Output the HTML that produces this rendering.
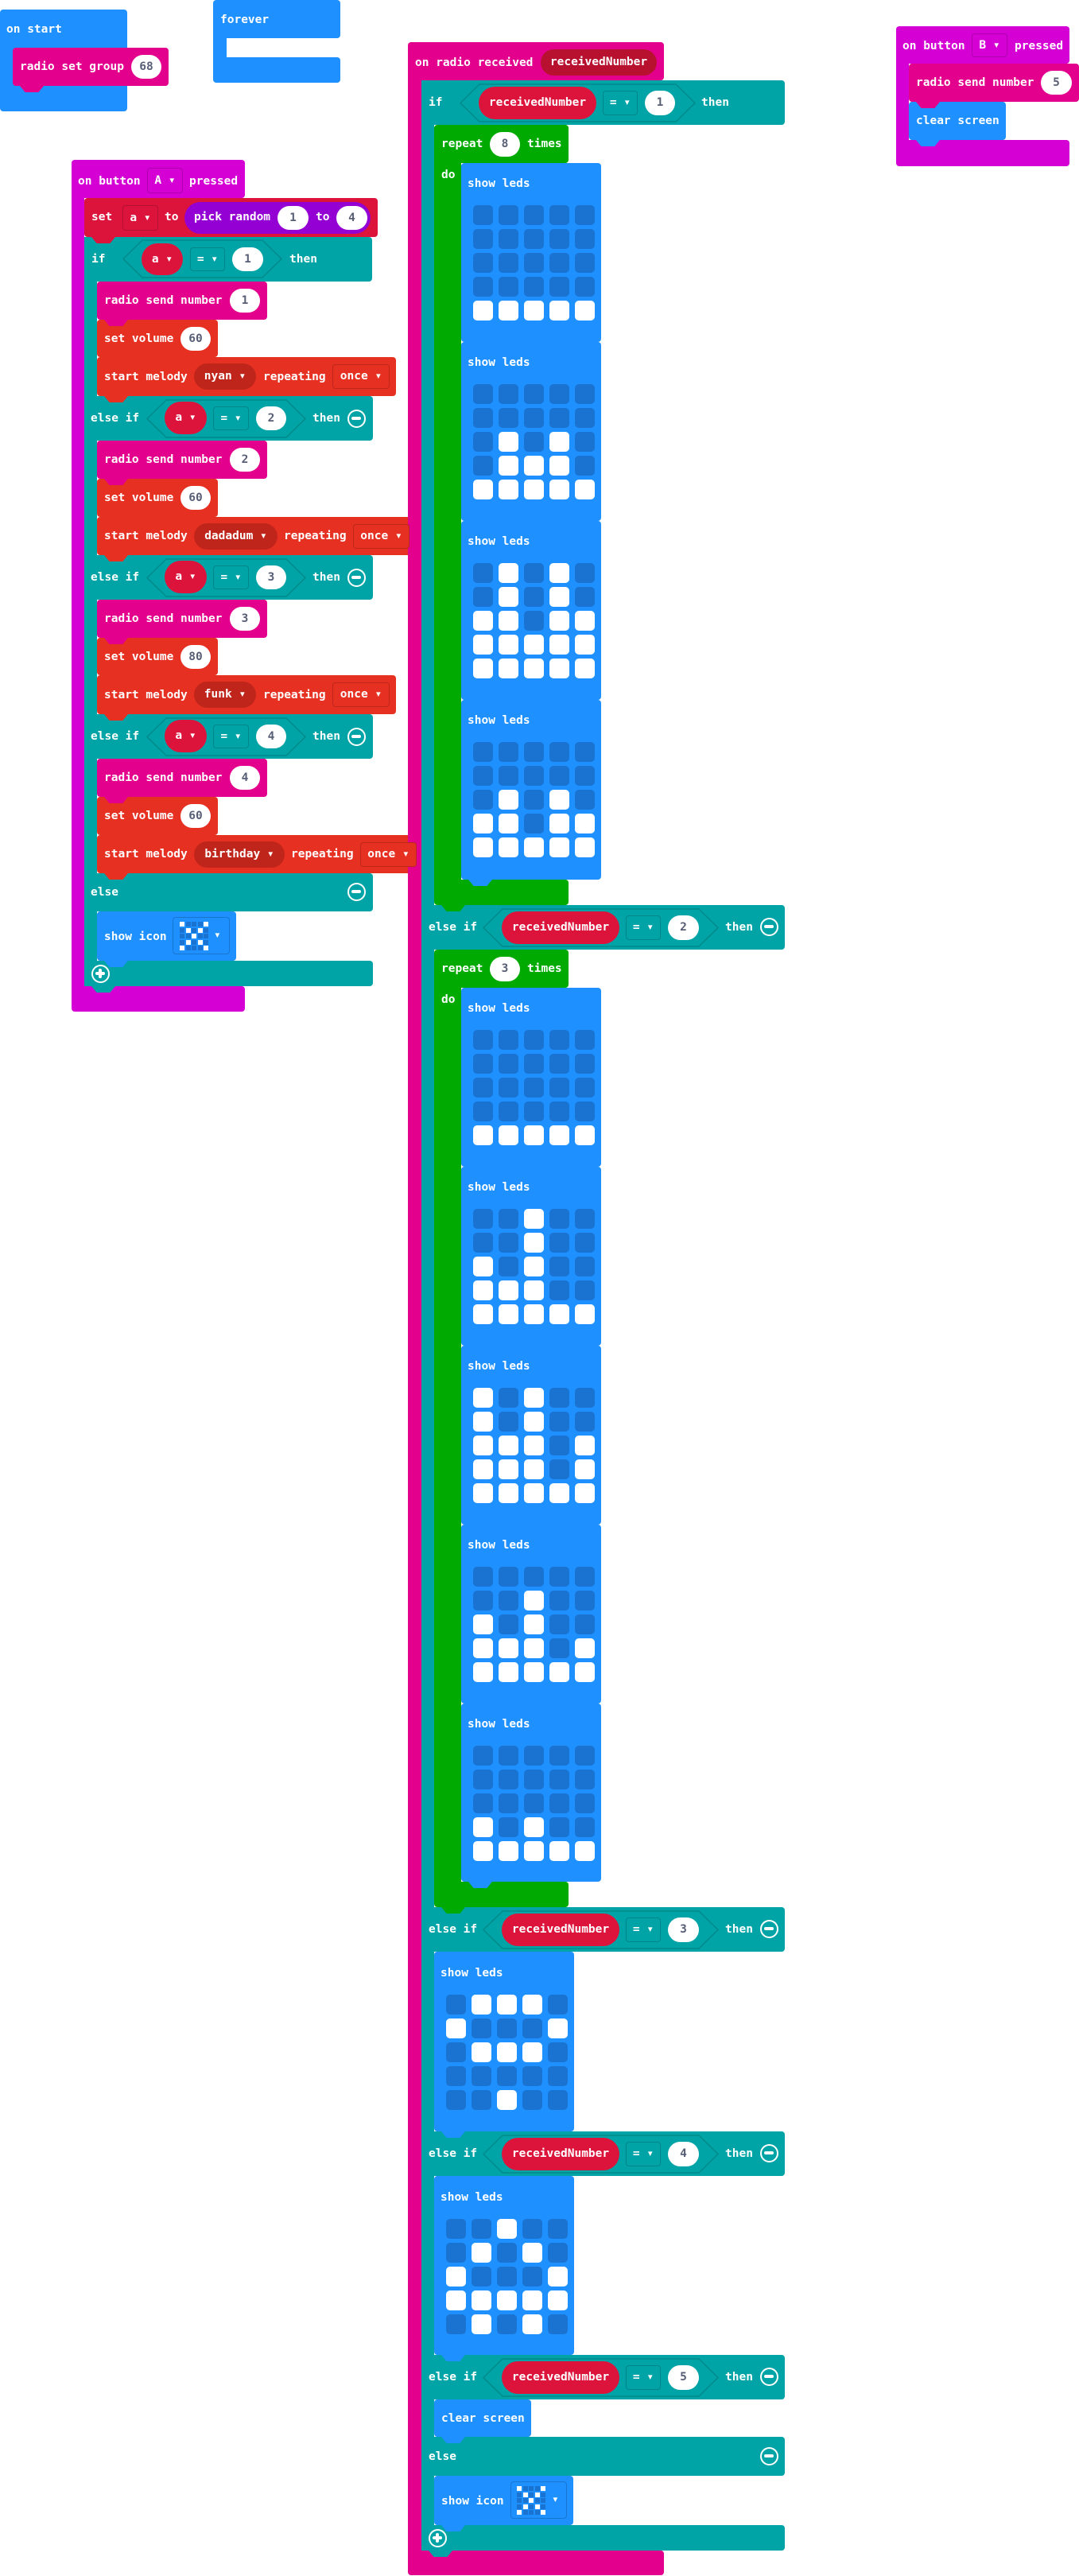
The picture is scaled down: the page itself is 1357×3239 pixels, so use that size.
<!DOCTYPE html>
<html><head><meta charset="utf-8"><style>
body{margin:0;width:1357px;height:3239px;background:#fff;position:relative;overflow:hidden}
.b{position:absolute;box-sizing:border-box;border-radius:4px}
.t::after{content:'';position:absolute;left:9px;bottom:-8px;width:30px;height:8px;background:inherit;clip-path:polygon(0 0,100% 0,78% 100%,22% 100%);z-index:2}
.x{position:absolute;color:#fff;font:bold 14.5px/18px "DejaVu Sans Mono",monospace;white-space:pre;z-index:3}
.n{position:absolute;background:#fff;border-radius:16px;color:#575e75;text-align:center;font:bold 14.5px "DejaVu Sans Mono",monospace;z-index:3}
.d{position:absolute;box-sizing:border-box;border:1px solid rgba(0,0,0,.18);border-radius:4px;color:#fff;font:bold 14.5px "DejaVu Sans Mono",monospace;white-space:pre;text-align:center;z-index:3}
.v{position:absolute;border-radius:21px;color:#fff;text-align:center;font:bold 14.5px "DejaVu Sans Mono",monospace;white-space:pre;z-index:3}
.hx{position:absolute;z-index:3}
.c{position:absolute;box-sizing:border-box;width:23px;height:23px;border:2.5px solid #fff;border-radius:50%;z-index:3}
.c::before{content:'';position:absolute;left:3px;top:7px;width:12px;height:4px;background:#fff;border-radius:2px}
.p::after{content:'';position:absolute;left:7px;top:3px;width:4px;height:12px;background:#fff;border-radius:2px}
.g{position:absolute;display:grid;grid-template-columns:repeat(5,25px);grid-auto-rows:25px;column-gap:7px;row-gap:5px;z-index:3}
.g i,.g b{border-radius:5px;background:#1a73d0;display:block}
.g b{background:#fff}
.m{position:absolute;display:grid;grid-template-columns:repeat(5,6px);grid-auto-rows:6px;gap:1.5px;z-index:3}
.m i,.m b{display:block;background:#1a73d0}.m b{background:#fff}
.BL{background:#1e90ff}.RD{background:#e3008c}.EV{background:#d400d4}.TL{background:#00a4a6}.VR{background:#dc143c}.MU{background:#e63022}.LP{background:#00aa00}
</style></head><body>

<!-- on start -->
<div class="b BL" style="left:0;top:12px;width:160px;height:128px"></div>
<div class="x" style="left:8px;top:28px">on start</div>
<div class="b RD t" style="left:16px;top:60px;width:196px;height:48px"></div>
<div class="x" style="left:25px;top:75px">radio set group</div>
<div class="n" style="left:165px;top:69px;width:38px;height:30px;line-height:30px">68</div>

<!-- forever -->
<div class="b BL" style="left:268px;top:0;width:160px;height:48px"></div>
<div class="b BL" style="left:268px;top:40px;width:17px;height:40px;border-radius:0"></div>
<div class="b BL" style="left:268px;top:72px;width:160px;height:32px"></div>
<div class="x" style="left:277px;top:16px">forever</div>

<!-- on button A -->
<div class="b EV" style="left:90px;top:201px;width:218px;height:48px"></div>
<div class="b EV" style="left:90px;top:245px;width:16px;height:1000px;border-radius:0"></div>
<div class="b EV" style="left:90px;top:1240px;width:218px;height:32px"></div>
<div class="x" style="left:98px;top:219px">on button</div>
<div class="d EV" style="left:185px;top:211px;width:45px;height:32px;line-height:30px">A ▾</div>
<div class="x" style="left:238px;top:219px">pressed</div>

<div class="b VR t" style="left:106px;top:249px;width:369px;height:49px"></div>
<div class="x" style="left:115px;top:264px">set</div>
<div class="d VR" style="left:154px;top:258px;width:45px;height:32px;line-height:30px">a ▾</div>
<div class="x" style="left:207px;top:264px">to</div>
<div class="v" style="left:232px;top:254px;width:234px;height:40px;background:#9400d3;border-radius:20px"></div>
<div class="x" style="left:244px;top:264px">pick random</div>
<div class="n" style="left:349px;top:259px;width:39px;height:30px;line-height:30px">1</div>
<div class="x" style="left:397px;top:264px">to</div>
<div class="n" style="left:423px;top:259px;width:39px;height:30px;line-height:30px">4</div>

<div class="b TL" style="left:106px;top:298px;width:16px;height:942px;border-radius:0"></div>
<!-- if a=1 -->
<div class="b TL" style="left:106px;top:298px;width:362px;height:56px"></div>
<div class="x" style="left:115px;top:317px">if</div>
<svg class="hx" style="left:154px;top:301px" width="201" height="49"><polygon points="1,24.5 25,1 176,1 200,24.5 176,48 25,48" fill="none" stroke="#008a8c" stroke-width="1.5"/></svg>
<div class="v VR" style="left:178px;top:306px;width:52px;height:40px;line-height:40px">a ▾</div>
<div class="d TL" style="left:239px;top:311px;width:44px;height:30px;line-height:28px">= ▾</div>
<div class="n" style="left:292px;top:311px;width:39px;height:30px;line-height:30px">1</div>
<div class="x" style="left:364px;top:317px">then</div>

<!-- branch 1 -->
<div class="b RD t" style="left:122px;top:354px;width:214px;height:48px"></div>
<div class="x" style="left:131px;top:369px">radio send number</div>
<div class="n" style="left:289px;top:363px;width:38px;height:30px;line-height:30px">1</div>
<div class="b MU t" style="left:122px;top:402px;width:152px;height:47px"></div>
<div class="x" style="left:131px;top:417px">set volume</div>
<div class="n" style="left:227px;top:411px;width:38px;height:30px;line-height:30px">60</div>
<div class="b MU t" style="left:122px;top:449px;width:376px;height:49px"></div>
<div class="x" style="left:131px;top:465px">start melody</div>
<div class="v" style="left:244px;top:457px;width:78px;height:33px;line-height:33px;background:#c0251b;border-radius:17px">nyan ▾</div>
<div class="x" style="left:331px;top:465px">repeating</div>
<div class="d MU" style="left:418px;top:458px;width:72px;height:31px;line-height:29px">once ▾</div>

<!-- else if a=2 -->
<div class="b TL" style="left:106px;top:498px;width:363px;height:56px"></div>
<div class="x" style="left:114px;top:517px">else if</div>
<svg class="hx" style="left:184px;top:502px" width="201" height="49"><polygon points="1,24.5 25,1 176,1 200,24.5 176,48 25,48" fill="none" stroke="#008a8c" stroke-width="1.5"/></svg>
<div class="v VR" style="left:207px;top:505px;width:53px;height:41px;line-height:41px">a ▾</div>
<div class="d TL" style="left:268px;top:511px;width:45px;height:30px;line-height:28px">= ▾</div>
<div class="n" style="left:322px;top:511px;width:38px;height:30px;line-height:30px">2</div>
<div class="x" style="left:393px;top:517px">then</div>
<div class="c" style="left:437px;top:515px"></div>

<div class="b RD t" style="left:122px;top:554px;width:214px;height:48px"></div>
<div class="x" style="left:131px;top:569px">radio send number</div>
<div class="n" style="left:289px;top:563px;width:38px;height:30px;line-height:30px">2</div>
<div class="b MU t" style="left:122px;top:602px;width:152px;height:48px"></div>
<div class="x" style="left:131px;top:617px">set volume</div>
<div class="n" style="left:227px;top:611px;width:38px;height:30px;line-height:30px">60</div>
<div class="b MU t" style="left:122px;top:650px;width:401px;height:48px"></div>
<div class="x" style="left:131px;top:665px">start melody</div>
<div class="v" style="left:244px;top:658px;width:105px;height:33px;line-height:33px;background:#c0251b;border-radius:17px">dadadum ▾</div>
<div class="x" style="left:357px;top:665px">repeating</div>
<div class="d MU" style="left:444px;top:659px;width:71px;height:31px;line-height:29px">once ▾</div>

<!-- else if a=3 -->
<div class="b TL" style="left:106px;top:698px;width:363px;height:56px"></div>
<div class="x" style="left:114px;top:717px">else if</div>
<svg class="hx" style="left:184px;top:702px" width="201" height="49"><polygon points="1,24.5 25,1 176,1 200,24.5 176,48 25,48" fill="none" stroke="#008a8c" stroke-width="1.5"/></svg>
<div class="v VR" style="left:207px;top:705px;width:53px;height:41px;line-height:41px">a ▾</div>
<div class="d TL" style="left:268px;top:711px;width:45px;height:30px;line-height:28px">= ▾</div>
<div class="n" style="left:322px;top:711px;width:38px;height:30px;line-height:30px">3</div>
<div class="x" style="left:393px;top:717px">then</div>
<div class="c" style="left:437px;top:715px"></div>

<div class="b RD t" style="left:122px;top:754px;width:214px;height:48px"></div>
<div class="x" style="left:131px;top:769px">radio send number</div>
<div class="n" style="left:289px;top:763px;width:38px;height:30px;line-height:30px">3</div>
<div class="b MU t" style="left:122px;top:802px;width:152px;height:47px"></div>
<div class="x" style="left:131px;top:817px">set volume</div>
<div class="n" style="left:227px;top:811px;width:38px;height:30px;line-height:30px">80</div>
<div class="b MU t" style="left:122px;top:849px;width:376px;height:49px"></div>
<div class="x" style="left:131px;top:865px">start melody</div>
<div class="v" style="left:244px;top:857px;width:78px;height:33px;line-height:33px;background:#c0251b;border-radius:17px">funk ▾</div>
<div class="x" style="left:331px;top:865px">repeating</div>
<div class="d MU" style="left:418px;top:858px;width:72px;height:31px;line-height:29px">once ▾</div>

<!-- else if a=4 -->
<div class="b TL" style="left:106px;top:898px;width:363px;height:56px"></div>
<div class="x" style="left:114px;top:917px">else if</div>
<svg class="hx" style="left:184px;top:902px" width="201" height="49"><polygon points="1,24.5 25,1 176,1 200,24.5 176,48 25,48" fill="none" stroke="#008a8c" stroke-width="1.5"/></svg>
<div class="v VR" style="left:207px;top:905px;width:53px;height:41px;line-height:41px">a ▾</div>
<div class="d TL" style="left:268px;top:911px;width:45px;height:30px;line-height:28px">= ▾</div>
<div class="n" style="left:322px;top:911px;width:38px;height:30px;line-height:30px">4</div>
<div class="x" style="left:393px;top:917px">then</div>
<div class="c" style="left:437px;top:915px"></div>

<div class="b RD t" style="left:122px;top:954px;width:214px;height:48px"></div>
<div class="x" style="left:131px;top:969px">radio send number</div>
<div class="n" style="left:289px;top:963px;width:38px;height:30px;line-height:30px">4</div>
<div class="b MU t" style="left:122px;top:1002px;width:152px;height:48px"></div>
<div class="x" style="left:131px;top:1017px">set volume</div>
<div class="n" style="left:227px;top:1011px;width:38px;height:30px;line-height:30px">60</div>
<div class="b MU t" style="left:122px;top:1050px;width:410px;height:48px"></div>
<div class="x" style="left:131px;top:1065px">start melody</div>
<div class="v" style="left:244px;top:1058px;width:114px;height:33px;line-height:33px;background:#c0251b;border-radius:17px">birthday ▾</div>
<div class="x" style="left:366px;top:1065px">repeating</div>
<div class="d MU" style="left:453px;top:1059px;width:71px;height:31px;line-height:29px">once ▾</div>

<!-- else -->
<div class="b TL" style="left:106px;top:1098px;width:363px;height:48px"></div>
<div class="x" style="left:114px;top:1113px">else</div>
<div class="c" style="left:437px;top:1110px"></div>
<div class="b BL t" style="left:122px;top:1146px;width:175px;height:62px"></div>
<div class="x" style="left:131px;top:1169px">show icon</div>
<div class="d BL" style="left:217px;top:1153px;width:72px;height:47px"></div>
<div class="m" style="left:226px;top:1159px"><b></b><i></i><i></i><i></i><b></b><i></i><b></b><i></i><b></b><i></i><i></i><i></i><b></b><i></i><i></i><i></i><b></b><i></i><b></b><i></i><b></b><i></i><i></i><i></i><b></b></div>
<div class="x" style="left:269px;top:1167px">▾</div>
<div class="b TL t" style="left:106px;top:1208px;width:363px;height:32px"></div>
<div class="c p" style="left:115px;top:1213px"></div>

<!-- on radio received -->
<div class="b RD" style="left:513px;top:53px;width:322px;height:48px"></div>
<div class="b RD" style="left:513px;top:95px;width:17px;height:3120px;border-radius:0"></div>
<div class="b RD" style="left:513px;top:3207px;width:322px;height:31px"></div>
<div class="x" style="left:522px;top:70px">on radio received</div>
<div class="v" style="left:680px;top:62px;width:146px;height:33px;line-height:33px;background:#b8102f;border-radius:17px">receivedNumber</div>

<div class="b TL" style="left:530px;top:101px;width:16px;height:3106px;border-radius:0"></div>
<!-- if rn=1 -->
<div class="b TL" style="left:530px;top:101px;width:457px;height:56px"></div>
<div class="x" style="left:539px;top:120px">if</div>
<svg class="hx" style="left:578px;top:105px" width="297" height="49"><polygon points="1,24.5 25,1 272,1 296,24.5 272,48 25,48" fill="none" stroke="#008a8c" stroke-width="1.5"/></svg>
<div class="v VR" style="left:602px;top:109px;width:148px;height:41px;line-height:41px">receivedNumber</div>
<div class="d TL" style="left:758px;top:114px;width:44px;height:31px;line-height:29px">= ▾</div>
<div class="n" style="left:811px;top:114px;width:38px;height:31px;line-height:31px">1</div>
<div class="x" style="left:882px;top:120px">then</div>

<!-- repeat 8 -->
<div class="b LP" style="left:546px;top:157px;width:169px;height:48px"></div>
<div class="b LP" style="left:546px;top:200px;width:34px;height:912px;border-radius:0"></div>
<div class="b LP t" style="left:546px;top:1106px;width:169px;height:32px"></div>
<div class="x" style="left:555px;top:172px">repeat</div>
<div class="n" style="left:616px;top:166px;width:38px;height:31px;line-height:31px">8</div>
<div class="x" style="left:663px;top:172px">times</div>
<div class="x" style="left:555px;top:211px">do</div>

<div class="b BL t" style="left:580px;top:205px;width:176px;height:225px"></div>
<div class="x" style="left:588px;top:222px">show leds</div>
<div class="g" style="left:595px;top:258px"><i></i><i></i><i></i><i></i><i></i><i></i><i></i><i></i><i></i><i></i><i></i><i></i><i></i><i></i><i></i><i></i><i></i><i></i><i></i><i></i><b></b><b></b><b></b><b></b><b></b></div>
<div class="b BL t" style="left:580px;top:430px;width:176px;height:225px"></div>
<div class="x" style="left:588px;top:447px">show leds</div>
<div class="g" style="left:595px;top:483px"><i></i><i></i><i></i><i></i><i></i><i></i><i></i><i></i><i></i><i></i><i></i><b></b><i></i><b></b><i></i><i></i><b></b><b></b><b></b><i></i><b></b><b></b><b></b><b></b><b></b></div>
<div class="b BL t" style="left:580px;top:655px;width:176px;height:225px"></div>
<div class="x" style="left:588px;top:672px">show leds</div>
<div class="g" style="left:595px;top:708px"><i></i><b></b><i></i><b></b><i></i><i></i><b></b><i></i><b></b><i></i><b></b><b></b><i></i><b></b><b></b><b></b><b></b><b></b><b></b><b></b><b></b><b></b><b></b><b></b><b></b></div>
<div class="b BL t" style="left:580px;top:880px;width:176px;height:226px"></div>
<div class="x" style="left:588px;top:897px">show leds</div>
<div class="g" style="left:595px;top:933px"><i></i><i></i><i></i><i></i><i></i><i></i><i></i><i></i><i></i><i></i><i></i><b></b><i></i><b></b><i></i><b></b><b></b><i></i><b></b><b></b><b></b><b></b><b></b><b></b><b></b></div>

<!-- else if rn=2 -->
<div class="b TL" style="left:530px;top:1138px;width:457px;height:56px"></div>
<div class="x" style="left:539px;top:1157px">else if</div>
<svg class="hx" style="left:607px;top:1142px" width="297" height="49"><polygon points="1,24.5 25,1 272,1 296,24.5 272,48 25,48" fill="none" stroke="#008a8c" stroke-width="1.5"/></svg>
<div class="v VR" style="left:631px;top:1146px;width:148px;height:41px;line-height:41px">receivedNumber</div>
<div class="d TL" style="left:787px;top:1151px;width:44px;height:31px;line-height:29px">= ▾</div>
<div class="n" style="left:840px;top:1151px;width:39px;height:31px;line-height:31px">2</div>
<div class="x" style="left:912px;top:1157px">then</div>
<div class="c" style="left:956px;top:1154px"></div>

<!-- repeat 3 -->
<div class="b LP" style="left:546px;top:1194px;width:169px;height:48px"></div>
<div class="b LP" style="left:546px;top:1237px;width:34px;height:1135px;border-radius:0"></div>
<div class="b LP t" style="left:546px;top:2366px;width:169px;height:32px"></div>
<div class="x" style="left:555px;top:1209px">repeat</div>
<div class="n" style="left:616px;top:1203px;width:38px;height:31px;line-height:31px">3</div>
<div class="x" style="left:663px;top:1209px">times</div>
<div class="x" style="left:555px;top:1248px">do</div>

<div class="b BL t" style="left:580px;top:1242px;width:176px;height:225px"></div>
<div class="x" style="left:588px;top:1259px">show leds</div>
<div class="g" style="left:595px;top:1295px"><i></i><i></i><i></i><i></i><i></i><i></i><i></i><i></i><i></i><i></i><i></i><i></i><i></i><i></i><i></i><i></i><i></i><i></i><i></i><i></i><b></b><b></b><b></b><b></b><b></b></div>
<div class="b BL t" style="left:580px;top:1467px;width:176px;height:225px"></div>
<div class="x" style="left:588px;top:1484px">show leds</div>
<div class="g" style="left:595px;top:1520px"><i></i><i></i><b></b><i></i><i></i><i></i><i></i><b></b><i></i><i></i><b></b><i></i><b></b><i></i><i></i><b></b><b></b><b></b><i></i><i></i><b></b><b></b><b></b><b></b><b></b></div>
<div class="b BL t" style="left:580px;top:1692px;width:176px;height:225px"></div>
<div class="x" style="left:588px;top:1709px">show leds</div>
<div class="g" style="left:595px;top:1745px"><b></b><i></i><b></b><i></i><i></i><b></b><i></i><b></b><i></i><i></i><b></b><b></b><b></b><i></i><b></b><b></b><b></b><b></b><i></i><b></b><b></b><b></b><b></b><b></b><b></b></div>
<div class="b BL t" style="left:580px;top:1917px;width:176px;height:225px"></div>
<div class="x" style="left:588px;top:1934px">show leds</div>
<div class="g" style="left:595px;top:1970px"><i></i><i></i><i></i><i></i><i></i><i></i><i></i><b></b><i></i><i></i><b></b><i></i><b></b><i></i><i></i><b></b><b></b><b></b><i></i><b></b><b></b><b></b><b></b><b></b><b></b></div>
<div class="b BL t" style="left:580px;top:2142px;width:176px;height:224px"></div>
<div class="x" style="left:588px;top:2159px">show leds</div>
<div class="g" style="left:595px;top:2195px"><i></i><i></i><i></i><i></i><i></i><i></i><i></i><i></i><i></i><i></i><i></i><i></i><i></i><i></i><i></i><b></b><i></i><b></b><i></i><i></i><b></b><b></b><b></b><b></b><b></b></div>

<!-- else if rn=3 -->
<div class="b TL" style="left:530px;top:2398px;width:457px;height:56px"></div>
<div class="x" style="left:539px;top:2417px">else if</div>
<svg class="hx" style="left:607px;top:2402px" width="297" height="49"><polygon points="1,24.5 25,1 272,1 296,24.5 272,48 25,48" fill="none" stroke="#008a8c" stroke-width="1.5"/></svg>
<div class="v VR" style="left:631px;top:2406px;width:148px;height:41px;line-height:41px">receivedNumber</div>
<div class="d TL" style="left:787px;top:2411px;width:44px;height:31px;line-height:29px">= ▾</div>
<div class="n" style="left:840px;top:2411px;width:39px;height:31px;line-height:31px">3</div>
<div class="x" style="left:912px;top:2417px">then</div>
<div class="c" style="left:956px;top:2414px"></div>
<div class="b BL t" style="left:546px;top:2454px;width:176px;height:226px"></div>
<div class="x" style="left:554px;top:2472px">show leds</div>
<div class="g" style="left:561px;top:2508px"><i></i><b></b><b></b><b></b><i></i><b></b><i></i><i></i><i></i><b></b><i></i><b></b><b></b><b></b><i></i><i></i><i></i><i></i><i></i><i></i><i></i><i></i><b></b><i></i><i></i></div>

<!-- else if rn=4 -->
<div class="b TL" style="left:530px;top:2680px;width:457px;height:56px"></div>
<div class="x" style="left:539px;top:2699px">else if</div>
<svg class="hx" style="left:607px;top:2684px" width="297" height="49"><polygon points="1,24.5 25,1 272,1 296,24.5 272,48 25,48" fill="none" stroke="#008a8c" stroke-width="1.5"/></svg>
<div class="v VR" style="left:631px;top:2688px;width:148px;height:41px;line-height:41px">receivedNumber</div>
<div class="d TL" style="left:787px;top:2693px;width:44px;height:31px;line-height:29px">= ▾</div>
<div class="n" style="left:840px;top:2693px;width:39px;height:31px;line-height:31px">4</div>
<div class="x" style="left:912px;top:2699px">then</div>
<div class="c" style="left:956px;top:2696px"></div>
<div class="b BL t" style="left:546px;top:2736px;width:176px;height:225px"></div>
<div class="x" style="left:554px;top:2754px">show leds</div>
<div class="g" style="left:561px;top:2790px"><i></i><i></i><b></b><i></i><i></i><i></i><b></b><i></i><b></b><i></i><b></b><i></i><i></i><i></i><b></b><b></b><b></b><b></b><b></b><b></b><i></i><b></b><i></i><b></b><i></i></div>

<!-- else if rn=5 -->
<div class="b TL" style="left:530px;top:2961px;width:457px;height:56px"></div>
<div class="x" style="left:539px;top:2980px">else if</div>
<svg class="hx" style="left:607px;top:2965px" width="297" height="49"><polygon points="1,24.5 25,1 272,1 296,24.5 272,48 25,48" fill="none" stroke="#008a8c" stroke-width="1.5"/></svg>
<div class="v VR" style="left:631px;top:2969px;width:148px;height:41px;line-height:41px">receivedNumber</div>
<div class="d TL" style="left:787px;top:2974px;width:44px;height:31px;line-height:29px">= ▾</div>
<div class="n" style="left:840px;top:2974px;width:39px;height:31px;line-height:31px">5</div>
<div class="x" style="left:912px;top:2980px">then</div>
<div class="c" style="left:956px;top:2977px"></div>
<div class="b BL t" style="left:546px;top:3017px;width:122px;height:47px"></div>
<div class="x" style="left:555px;top:3032px">clear screen</div>

<!-- else -->
<div class="b TL" style="left:530px;top:3064px;width:457px;height:49px"></div>
<div class="x" style="left:539px;top:3080px">else</div>
<div class="c" style="left:956px;top:3077px"></div>
<div class="b BL t" style="left:546px;top:3113px;width:175px;height:62px"></div>
<div class="x" style="left:555px;top:3136px">show icon</div>
<div class="d BL" style="left:642px;top:3120px;width:71px;height:47px"></div>
<div class="m" style="left:650px;top:3126px"><b></b><i></i><i></i><i></i><b></b><i></i><b></b><i></i><b></b><i></i><i></i><i></i><b></b><i></i><i></i><i></i><b></b><i></i><b></b><i></i><b></b><i></i><i></i><i></i><b></b></div>
<div class="x" style="left:694px;top:3134px">▾</div>
<div class="b TL t" style="left:530px;top:3175px;width:457px;height:32px"></div>
<div class="c p" style="left:539px;top:3180px"></div>

<!-- on button B -->
<div class="b EV" style="left:1127px;top:33px;width:218px;height:47px"></div>
<div class="b EV" style="left:1127px;top:75px;width:16px;height:110px;border-radius:0"></div>
<div class="b EV" style="left:1127px;top:176px;width:218px;height:33px"></div>
<div class="x" style="left:1135px;top:49px">on button</div>
<div class="d EV" style="left:1222px;top:42px;width:45px;height:30px;line-height:28px">B ▾</div>
<div class="x" style="left:1276px;top:49px">pressed</div>
<div class="b RD t" style="left:1143px;top:80px;width:214px;height:48px"></div>
<div class="x" style="left:1152px;top:95px">radio send number</div>
<div class="n" style="left:1309px;top:89px;width:39px;height:30px;line-height:30px">5</div>
<div class="b BL t" style="left:1143px;top:128px;width:122px;height:48px"></div>
<div class="x" style="left:1152px;top:143px">clear screen</div>

</body></html>
